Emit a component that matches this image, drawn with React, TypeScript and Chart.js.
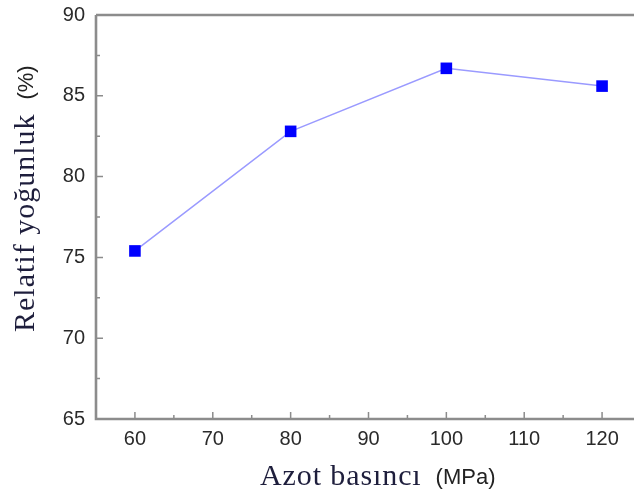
import React, { useEffect, useRef } from "react";
import { Chart, registerables } from "chart.js";

Chart.register(...registerables);

// ---- data ----
const pressures = [60, 80, 100, 120];
const relativeDensity = [75.4, 82.8, 86.7, 85.6];
const xMajorTicks = [60, 70, 80, 90, 100, 110, 120];
const xMinorTicks = [65, 75, 85, 95, 105, 115, 125];
const yMajorTicks = [65, 70, 75, 80, 85, 90];
const yMinorTicks = [67.5, 72.5, 77.5, 82.5, 87.5];
const yTitleMain = "Relatif yoğunluk";
const yTitleUnit = "(%)";
const xTitleMain = "Azot basıncı";
const xTitleUnit = "(MPa)";

const AXIS_COLOR = "#8c8c8c";
const TITLE_COLOR = "#1e1e3c";
const SERIF = "'Liberation Serif', 'Times New Roman', serif";
const SANS = "'Liberation Sans', Arial, sans-serif";

const framePlugin = {
  id: "frame",
  beforeDatasetsDraw(chart: any) {
    const { ctx, chartArea: a, scales } = chart;
    const x = scales.x;
    const y = scales.y;
    ctx.save();
    ctx.strokeStyle = AXIS_COLOR;
    ctx.lineWidth = 2.6;
    ctx.beginPath();
    ctx.moveTo(a.left, a.top);
    ctx.lineTo(a.right + 5, a.top);
    ctx.moveTo(a.left, a.top);
    ctx.lineTo(a.left, a.bottom);
    ctx.lineTo(a.right + 5, a.bottom);
    ctx.stroke();
    ctx.lineWidth = 1.5;
    ctx.beginPath();
    for (const v of xMajorTicks) {
      const px = x.getPixelForValue(v);
      ctx.moveTo(px, a.bottom);
      ctx.lineTo(px, a.bottom - 7);
    }
    for (const v of xMinorTicks) {
      const px = x.getPixelForValue(v);
      ctx.moveTo(px, a.bottom);
      ctx.lineTo(px, a.bottom - 4);
    }
    for (const v of yMajorTicks) {
      const py = y.getPixelForValue(v);
      ctx.moveTo(a.left, py);
      ctx.lineTo(a.left + 7, py);
    }
    for (const v of yMinorTicks) {
      const py = y.getPixelForValue(v);
      ctx.moveTo(a.left, py);
      ctx.lineTo(a.left + 4, py);
    }
    ctx.stroke();
    ctx.restore();
  },
  afterDraw(chart: any) {
    const { ctx } = chart;
    ctx.save();
    ctx.fillStyle = TITLE_COLOR;
    ctx.textBaseline = "alphabetic";
    ctx.textAlign = "left";
    // y title (rotated)
    ctx.save();
    ctx.translate(34, 332);
    ctx.rotate(-Math.PI / 2);
    ctx.font = `30px ${SERIF}`;
    (ctx as any).letterSpacing = "1px";
    ctx.fillText(yTitleMain, 0, 0);
    const w1 = ctx.measureText(yTitleMain).width;
    (ctx as any).letterSpacing = "0px";
    ctx.font = `22px ${SANS}`;
    ctx.fillStyle = "#222";
    ctx.fillText(yTitleUnit, w1 + 14, -1);
    ctx.restore();
    // x title
    ctx.font = `30px ${SERIF}`;
    (ctx as any).letterSpacing = "0.9px";
    ctx.fillText(xTitleMain, 260, 485);
    const w2 = ctx.measureText(xTitleMain).width;
    (ctx as any).letterSpacing = "0px";
    ctx.font = `22px ${SANS}`;
    ctx.fillStyle = "#222";
    ctx.fillText(xTitleUnit, 260 + w2 + 14, 484);
    ctx.restore();
  },
};

export default function App() {
  const canvasRef = useRef<HTMLCanvasElement | null>(null);

  useEffect(() => {
    const canvas = canvasRef.current;
    if (!canvas) return;
    const chart = new Chart(canvas, {
      type: "line",
      data: {
        datasets: [
          {
            data: pressures.map((p, i) => ({ x: p, y: relativeDensity[i] })),
            borderColor: "#9a9aff",
            borderWidth: 1.5,
            backgroundColor: "#0000ff",
            pointBackgroundColor: "#0000ff",
            pointBorderColor: "#0000ff",
            pointBorderWidth: 0,
            pointStyle: "rect",
            pointRadius: 8.2,
            pointHoverRadius: 8.2,
            tension: 0,
            fill: false,
          },
        ],
      },
      options: {
        responsive: false,
        animation: false,
        devicePixelRatio: 1,
        layout: { padding: { top: 15, right: 39, left: 0, bottom: 0 } },
        plugins: {
          legend: { display: false },
          tooltip: { enabled: false },
          title: { display: false },
        },
        scales: {
          x: {
            type: "linear",
            min: 55,
            max: 125,
            grid: { display: false, drawTicks: false },
            border: { display: false },
            afterBuildTicks: (scale: any) => {
              scale.ticks = xMajorTicks.map((v) => ({ value: v }));
            },
            afterFit: (scale: any) => {
              scale.height = 74;
              scale.paddingLeft = 0;
              scale.paddingRight = 0;
            },
            ticks: {
              color: "#2a2a2a",
              font: { family: SANS, size: 20 },
              padding: 8,
              maxRotation: 0,
              autoSkip: false,
            },
          },
          y: {
            type: "linear",
            min: 65,
            max: 90,
            grid: { display: false, drawTicks: false },
            border: { display: false },
            afterBuildTicks: (scale: any) => {
              scale.ticks = yMajorTicks.map((v) => ({ value: v }));
            },
            afterFit: (scale: any) => {
              scale.width = 96;
              scale.paddingTop = 0;
              scale.paddingBottom = 0;
            },
            ticks: {
              color: "#2a2a2a",
              font: { family: SANS, size: 20 },
              padding: 11,
              autoSkip: false,
            },
          },
        },
      },
      plugins: [framePlugin],
    });
    return () => chart.destroy();
  }, []);

  return (
    <div
      style={{
        position: "fixed",
        left: 0,
        top: 0,
        width: 634,
        height: 493,
        overflow: "hidden",
        background: "#ffffff",
      }}
    >
      <canvas ref={canvasRef} width={680} height={493} style={{ display: "block" }} />
    </div>
  );
}
